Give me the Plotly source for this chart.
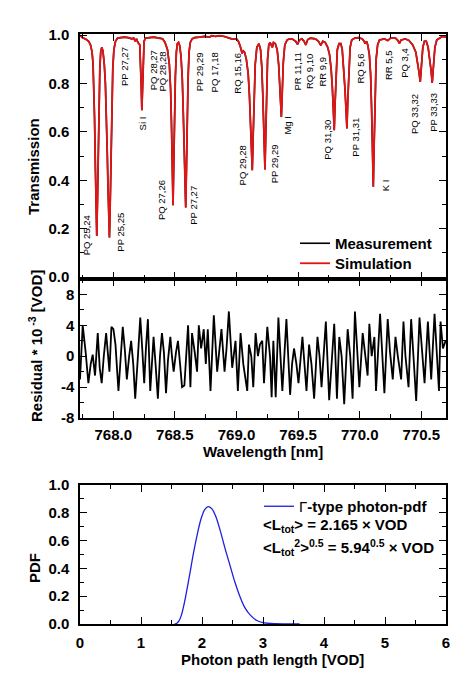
import plotly.graph_objects as go

FONT = "Arial, Liberation Sans, sans-serif"

# ---------------- data ----------------
# Transmission spectrum (simulation; measurement lies underneath)
trans_wl = [767.730, 767.750, 767.780, 767.800, 767.815, 767.828, 767.836, 767.843, 767.848, 767.855,
            767.860, 767.866, 767.872, 767.878, 767.884, 767.891, 767.898, 767.907, 767.916, 767.927,
            767.936, 767.944, 767.951, 767.957, 767.963, 767.969, 767.975, 767.981, 767.988, 767.996,
            768.005, 768.018, 768.035, 768.060, 768.090, 768.120, 768.150, 768.165, 768.178, 768.188,
            768.200, 768.215, 768.222, 768.227, 768.232, 768.237, 768.242, 768.250, 768.262, 768.290,
            768.330, 768.370, 768.400, 768.420, 768.440, 768.455, 768.465, 768.472, 768.478, 768.485,
            768.491, 768.497, 768.504, 768.512, 768.520, 768.530, 768.540, 768.550, 768.560, 768.568,
            768.575, 768.582, 768.588, 768.594, 768.600, 768.607, 768.615, 768.625, 768.640, 768.660,
            768.700, 768.740, 768.780, 768.800, 768.830, 768.860, 768.900, 768.930, 768.960, 769.000,
            769.015, 769.030, 769.045, 769.055, 769.065, 769.080, 769.095, 769.105, 769.113, 769.120,
            769.128, 769.135, 769.142, 769.152, 769.165, 769.182, 769.195, 769.205, 769.213, 769.220,
            769.226, 769.231, 769.237, 769.244, 769.252, 769.262, 769.272, 769.291, 769.300, 769.315,
            769.330, 769.342, 769.350, 769.357, 769.364, 769.371, 769.380, 769.392, 769.410, 769.430,
            769.450, 769.480, 769.495, 769.510, 769.530, 769.548, 769.562, 769.578, 769.600, 769.640,
            769.665, 769.684, 769.700, 769.720, 769.740, 769.755, 769.768, 769.778, 769.786, 769.793,
            769.800, 769.808, 769.818, 769.832, 769.847, 769.858, 769.870, 769.880, 769.889, 769.896,
            769.903, 769.912, 769.922, 769.935, 769.960, 769.990, 770.020, 770.035, 770.045, 770.055,
            770.065, 770.078, 770.088, 770.096, 770.103, 770.110, 770.117, 770.124, 770.133, 770.145,
            770.160, 770.200, 770.228, 770.250, 770.290, 770.310, 770.322, 770.335, 770.370, 770.400,
            770.430, 770.455, 770.470, 770.480, 770.491, 770.500, 770.512, 770.525, 770.540, 770.555,
            770.570, 770.580, 770.588, 770.597, 770.610, 770.625, 770.650, 770.670, 770.700]
trans_val = [1.000, 0.990, 0.983, 0.975, 0.960, 0.930, 0.880, 0.790, 0.660, 0.450,
             0.300, 0.170, 0.320, 0.520, 0.700, 0.860, 0.930, 0.950, 0.935, 0.880,
             0.800, 0.680, 0.520, 0.380, 0.260, 0.164, 0.300, 0.500, 0.700, 0.860,
             0.940, 0.975, 0.988, 0.990, 0.992, 0.990, 0.985, 0.988, 0.975, 0.985,
             0.970, 0.960, 0.880, 0.790, 0.690, 0.800, 0.920, 0.975, 0.988, 0.990,
             0.992, 0.988, 0.985, 0.970, 0.940, 0.880, 0.780, 0.640, 0.470, 0.297,
             0.470, 0.660, 0.830, 0.930, 0.965, 0.970, 0.955, 0.910, 0.820, 0.680,
             0.520, 0.390, 0.288, 0.450, 0.650, 0.820, 0.930, 0.970, 0.985, 0.990,
             0.992, 0.995, 0.992, 0.998, 0.995, 0.998, 0.995, 0.990, 0.985, 0.985,
             0.975, 0.955, 0.925, 0.935, 0.930, 0.900, 0.840, 0.750, 0.640, 0.530,
             0.442, 0.580, 0.740, 0.880, 0.950, 0.965, 0.940, 0.870, 0.760, 0.630,
             0.530, 0.445, 0.580, 0.750, 0.900, 0.960, 0.970, 0.950, 0.970, 0.965,
             0.940, 0.880, 0.800, 0.720, 0.662, 0.760, 0.890, 0.960, 0.980, 0.985,
             0.985, 0.975, 0.962, 0.980, 0.985, 0.975, 0.960, 0.982, 0.988, 0.985,
             0.975, 0.958, 0.975, 0.970, 0.950, 0.920, 0.860, 0.780, 0.700, 0.607,
             0.720, 0.850, 0.940, 0.965, 0.965, 0.940, 0.870, 0.780, 0.690, 0.614,
             0.730, 0.870, 0.950, 0.980, 0.988, 0.990, 0.985, 0.975, 0.965, 0.975,
             0.960, 0.920, 0.840, 0.700, 0.520, 0.373, 0.550, 0.760, 0.900, 0.960,
             0.980, 0.985, 0.978, 0.988, 0.988, 0.978, 0.966, 0.980, 0.985, 0.978,
             0.960, 0.930, 0.890, 0.850, 0.807, 0.880, 0.950, 0.975, 0.975, 0.950,
             0.900, 0.850, 0.803, 0.880, 0.950, 0.980, 0.990, 0.995, 0.993]

# Residual (x 10^-3 VOD)
res_wl = [767.730, 767.752, 767.776, 767.798, 767.817, 767.833, 767.852, 767.874, 767.890, 767.906,
          767.923, 767.942, 767.969, 767.985, 768.001, 768.018, 768.042, 768.061, 768.077, 768.094,
          768.110, 768.129, 768.145, 768.162, 768.178, 768.200, 768.219, 768.235, 768.251, 768.265,
          768.281, 768.300, 768.314, 768.327, 768.343, 768.362, 768.379, 768.395, 768.411, 768.428,
          768.444, 768.463, 768.476, 768.490, 768.509, 768.525, 768.542, 768.558, 768.577, 768.590,
          768.607, 768.626, 768.639, 768.661, 768.680, 768.694, 768.713, 768.734, 768.751, 768.767,
          768.789, 768.816, 768.843, 768.859, 768.878, 768.903, 768.919, 768.938, 768.952, 768.965,
          768.992, 769.011, 769.033, 769.055, 769.087, 769.101, 769.120, 769.136, 769.155, 769.174,
          769.190, 769.209, 769.223, 769.250, 769.272, 769.285, 769.299, 769.318, 769.340, 769.359,
          769.372, 769.405, 769.418, 769.435, 769.451, 769.467, 769.486, 769.503, 769.535, 769.551,
          769.568, 769.589, 769.608, 769.630, 769.657, 769.674, 769.690, 769.725, 769.739, 769.752,
          769.793, 769.815, 769.834, 769.853, 769.874, 769.902, 769.923, 769.942, 769.961, 769.978,
          769.997, 770.024, 770.043, 770.064, 770.078, 770.097, 770.119, 770.132, 770.165, 770.181,
          770.200, 770.227, 770.246, 770.268, 770.290, 770.309, 770.336, 770.355, 770.371, 770.396,
          770.417, 770.436, 770.458, 770.485, 770.504, 770.526, 770.553, 770.569, 770.580, 770.607,
          770.626, 770.643, 770.656, 770.675, 770.697]
res_val = [-3.0, 4.0, 0.5, -3.5, -1.0, 0.2, -2.5, 3.0, -1.5, -3.5,
           0.0, 3.0, -2.0, 3.8, 3.5, 1.5, -4.5, 0.5, 3.8, 0.8,
           -3.0, 0.0, 2.0, -1.0, -5.5, 0.0, 5.0, 1.0, -3.5, 1.0,
           4.8, -4.5, -1.0, 2.5, -1.0, -5.5, 0.0, 3.0, 0.5, -4.8,
           -0.5, 2.5, 0.0, -2.0, 0.5, 2.0, -1.0, -4.0, -3.8, 0.0,
           4.0, -4.0, 3.0, 0.5, -2.0, 4.0, 1.0, 3.5, -1.0, 3.5,
           -4.5, 5.3, -2.0, 0.5, 3.5, -2.0, 1.0, 5.8, 1.0, -1.5,
           2.0, -4.5, 3.0, -1.0, -4.5, 1.5, 0.0, -4.0, 3.0, 0.0,
           1.5, 2.0, -3.5, 3.8, 0.0, -5.3, 2.0, -5.3, 5.0, 0.0,
           -4.5, 4.8, 0.0, -5.0, -1.0, 1.0, -1.0, -3.5, 2.5, -1.0,
           -4.5, 1.5, -1.0, -5.5, 2.5, 0.0, -4.0, 4.5, 0.0, -5.7,
           4.2, -5.5, 2.5, 0.0, -6.2, 3.5, 0.0, -5.5, 5.8, 1.0,
           -4.0, 3.0, 0.5, -2.5, 4.2, 0.0, 2.5, -4.5, 5.5, 0.0,
           -4.8, 4.8, 0.5, -3.0, 2.5, 0.0, -3.0, 4.5, 0.0, -4.0,
           4.8, 0.0, -5.8, 5.0, 1.0, -3.5, 4.5, 0.0, -3.0, 5.5,
           0.0, -4.5, 4.5, 1.0, 2.0]

# Gamma-type photon path length PDF
pdf_x = [1.55, 1.58, 1.62, 1.66, 1.70, 1.75, 1.80, 1.86, 1.92, 1.98,
         2.04, 2.10, 2.16, 2.22, 2.30, 2.38, 2.46, 2.54, 2.62, 2.70,
         2.80, 2.90, 3.00, 3.20, 3.60]
pdf_y = [0.0, 0.003, 0.02, 0.06, 0.13, 0.24, 0.36, 0.51, 0.64, 0.75,
         0.82, 0.845, 0.83, 0.78, 0.67, 0.54, 0.42, 0.30, 0.20, 0.12,
         0.06, 0.025, 0.01, 0.002, 0.0]

# Line labels: text, wavelength, transmission position
line_labels = ["PQ 25,24", "PP 25,25", "PP 27,27", "Si I", "PQ 28,27", "PQ 28,28", "PQ 27,26",
               "PP 27,27", "PP 29,29", "PQ 17,18", "RQ 15,16", "PQ 29,28", "PP 29,29", "Mg I",
               "PR 11,11", "RQ 9,10", "RR 9,9", "PQ 31,30", "PP 31,31", "RQ 5,6", "K I",
               "RR 5,5", "PQ 3,4", "PQ 33,32", "PP 33,33"]
label_wl = [767.789, 768.061, 768.096, 768.241, 768.322, 768.400, 768.387,
            768.653, 768.707, 768.829, 769.006, 769.047, 769.304, 769.413,
            769.495, 769.597, 769.698, 769.739, 769.969, 770.010, 770.206,
            770.228, 770.368, 770.444, 770.602]
label_t = [0.174, 0.187, 0.869, 0.635, 0.855, 0.848, 0.318,
           0.298, 0.848, 0.848, 0.842, 0.463, 0.470, 0.628,
           0.848, 0.848, 0.848, 0.566, 0.580, 0.862, 0.380,
           0.876, 0.886, 0.676, 0.683]

# ---------------- figure ----------------
W, H = 474, 691
RED = "rgb(226,20,20)"

fig = go.Figure()
fig.add_trace(go.Scatter(x=trans_wl, y=trans_val, mode="lines", name="Measurement",
                         line=dict(color="black", width=1.6), xaxis="x", yaxis="y", legend="legend"))
fig.add_trace(go.Scatter(x=trans_wl, y=trans_val, mode="lines", name="Simulation",
                         line=dict(color=RED, width=1.8), xaxis="x", yaxis="y", legend="legend3"))
fig.add_trace(go.Scatter(x=res_wl, y=res_val, mode="lines", showlegend=False,
                         line=dict(color="black", width=1.8), xaxis="x2", yaxis="y2"))
fig.add_trace(go.Scatter(x=pdf_x, y=pdf_y, mode="lines", name="Γ<b>-type photon-pdf</b>",
                         line=dict(color="rgb(30,30,225)", width=1.3, shape="spline"),
                         xaxis="x3", yaxis="y3", legend="legend2"))

def px_x(p):
    return p / W

def px_y(p):
    return 1 - p / H

XD = [px_x(80), px_x(446)]
tickfont = dict(family=FONT, size=15, color="black", weight="bold")
common = dict(showline=True, linecolor="black", linewidth=1.5, mirror="allticks",
              ticks="inside", ticklen=7, tickwidth=1.2, tickcolor="black",
              showgrid=False, zeroline=False, tickfont=tickfont, automargin=False)
minor_common = dict(ticks="inside", ticklen=4, tickwidth=1.2, tickcolor="black", showgrid=False)
legfont_b = dict(family=FONT, size=15, color="black", weight="bold")

fig.update_layout(
    width=W, height=H, autosize=False,
    margin=dict(l=0, r=0, t=0, b=0, pad=0, autoexpand=False),
    paper_bgcolor="white", plot_bgcolor="white",
    font=dict(family=FONT, color="black"),
    xaxis=dict(domain=XD, anchor="y", range=[767.73, 770.70], dtick=0.5, tick0=768.0,
               showticklabels=False, minor=dict(dtick=0.25, **minor_common), **common),
    yaxis=dict(domain=[px_y(279), px_y(34)], anchor="x", range=[-0.008, 1.005], dtick=0.2,
               tickformat=".1f", ticklabelstandoff=6, minor=dict(dtick=0.1, **minor_common), **common),
    xaxis2=dict(domain=XD, anchor="y2", range=[767.73, 770.70], dtick=0.5, tick0=768.0,
                tickformat=".1f", ticklabelstandoff=2, minor=dict(dtick=0.25, **minor_common), **common),
    yaxis2=dict(domain=[px_y(418), px_y(279)], anchor="x2", range=[-8, 10],
                tickvals=[-8, -4, 0, 4, 8], ticktext=["-8", "-4", "0", "4", "8"], ticklabelstandoff=1,
                minor=dict(dtick=2, **minor_common), **common),
    xaxis3=dict(domain=XD, anchor="y3", range=[0, 6], dtick=1, ticklabelstandoff=4,
                minor=dict(dtick=0.5, **minor_common), **common),
    yaxis3=dict(domain=[px_y(624), px_y(485)], anchor="x3", range=[0, 1], dtick=0.2,
                tickformat=".1f", ticklabelstandoff=6, minor=dict(dtick=0.1, **minor_common), **common),
    legend=dict(x=px_x(295), y=px_y(227), xanchor="left", yanchor="top", bgcolor="rgba(0,0,0,0)",
                font=legfont_b, tracegroupgap=0),
    legend3=dict(x=px_x(295), y=px_y(247), xanchor="left", yanchor="top", bgcolor="rgba(0,0,0,0)",
                 font=legfont_b, tracegroupgap=0),
    legend2=dict(x=px_x(259), y=px_y(490), xanchor="left", yanchor="top", bgcolor="rgba(0,0,0,0)",
                 font=dict(family=FONT, size=15, color="black"), tracegroupgap=0),
)

ann = []
for txt, wl, t in zip(line_labels, label_wl, label_t):
    ann.append(dict(x=wl, y=t, xref="x", yref="y", text=txt, textangle=-90, showarrow=False,
                    xanchor="center", yanchor="middle",
                    font=dict(family=FONT, size=9.5, color="black")))

bold = dict(family=FONT, size=15, color="black", weight="bold")
C = dict(xref="paper", yref="paper", showarrow=False, xanchor="center", yanchor="middle", font=bold)
ann += [
    dict(x=px_x(34), y=px_y(167), text="Transmission", textangle=-90, **C),
    dict(x=px_x(35), y=px_y(346), text="Residual * 10<sup> -3</sup> [VOD]", textangle=-90, **C),
    dict(x=px_x(34), y=px_y(568), text="PDF", textangle=-90, **C),
    dict(x=px_x(263), y=px_y(451), text="Wavelength [nm]", **C),
    dict(x=px_x(272), y=px_y(659), text="Photon path length [VOD]", **C),
    dict(x=px_x(261), y=px_y(525), xref="paper", yref="paper", xanchor="left", yanchor="middle",
         text="&lt;L<sub>tot</sub>&gt; = 2.165 × VOD", showarrow=False, font=bold),
    dict(x=px_x(261), y=px_y(547), xref="paper", yref="paper", xanchor="left", yanchor="middle",
         text="&lt;L<sub>tot</sub><sup>2</sup>&gt;<sup>0.5</sup> = 5.94<sup>0.5</sup> × VOD",
         showarrow=False, font=bold),
]
fig.update_layout(annotations=ann)

fig.write_html("out.html", config={"displayModeBar": False},
               post_script="document.body.style.margin='0';document.body.style.overflow='hidden';")
